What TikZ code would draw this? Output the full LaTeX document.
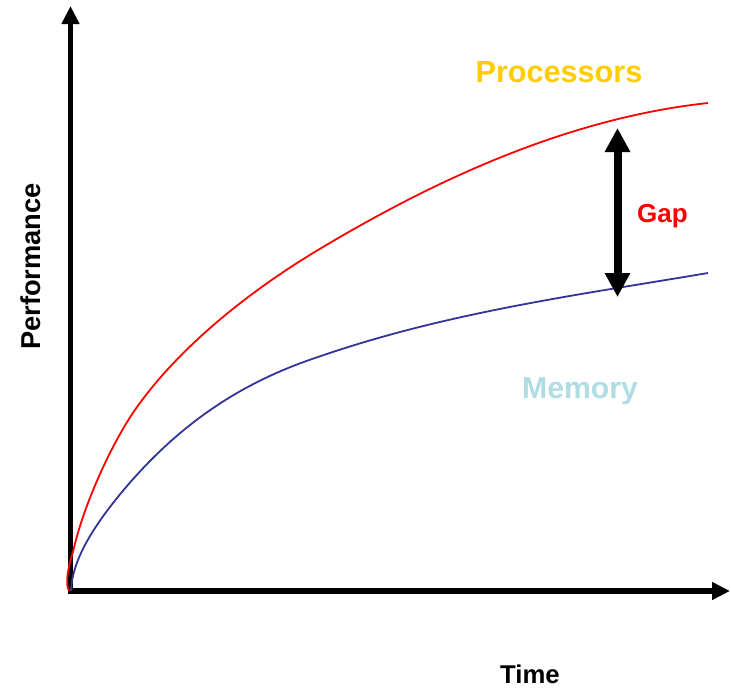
\documentclass[tikz,border=0pt]{standalone}
\usepackage{fontspec}
\setmainfont{Liberation Sans}
\usepackage{xcolor}
\usetikzlibrary{arrows.meta}
\definecolor{procgold}{RGB}{255,204,0}
\definecolor{memblue}{RGB}{176,221,228}
\definecolor{curveblue}{RGB}{51,51,153}
\tikzset{lbl/.style={font=\bfseries, anchor=base, inner sep=0pt}}
\begin{document}
\begin{tikzpicture}[x=1pt,y=-1pt]
\useasboundingbox (0,0) rectangle (731,688);
% axes
\coordinate (origin) at (70.5,591);
\coordinate (xend) at (730,591);
\coordinate (yend) at (70.5,6);
\draw[line width=6pt,-{Triangle[width=17pt,length=18pt]}](67.5,591)--(xend);
\draw[line width=5.5pt,-{Triangle[width=17pt,length=18pt]}](70.5,593.5)--(yend);
% processors
\draw[red,line width=1.8pt](69,591)..controls(65,584)and(68,567)..(73,552)
  ..controls(83,506)and(112,442)..(137,407)
  ..controls(182,344)and(253,289)..(318,250)
  ..controls(438,178)and(570,118)..(708,103);
% memory
\draw[curveblue,line width=1.8pt](71,591)..controls(72,558)and(97,523)..(117,498)
  ..controls(185,414)and(255,378)..(318,357)
  ..controls(448,312)and(578,295)..(708,273);
% gap
\coordinate (gaptop) at (617.5,128);
\coordinate (gapbot) at (617.5,297);
\draw[line width=8pt,{Triangle[width=24pt,length=24pt]}-{Triangle[width=24pt,length=24pt]}](gapbot)--(gaptop);
\node[lbl,text=procgold,font=\bfseries\fontsize{30.6}{36}\selectfont](proc) at (559,82){Processors};
\node[lbl,text=memblue,font=\bfseries\fontsize{30.2}{36}\selectfont](mem) at (580,398){Memory};
\node[lbl,text=red,font=\bfseries\fontsize{26}{31}\selectfont](gap) at (662.5,222){Gap};
\node[lbl,font=\bfseries\fontsize{25.7}{30}\selectfont](time) at (530,683){Time};
\node[lbl,rotate=90,font=\bfseries\fontsize{27.3}{32}\selectfont](perf) at (40,266.5){Performance};
\end{tikzpicture}
\end{document}
